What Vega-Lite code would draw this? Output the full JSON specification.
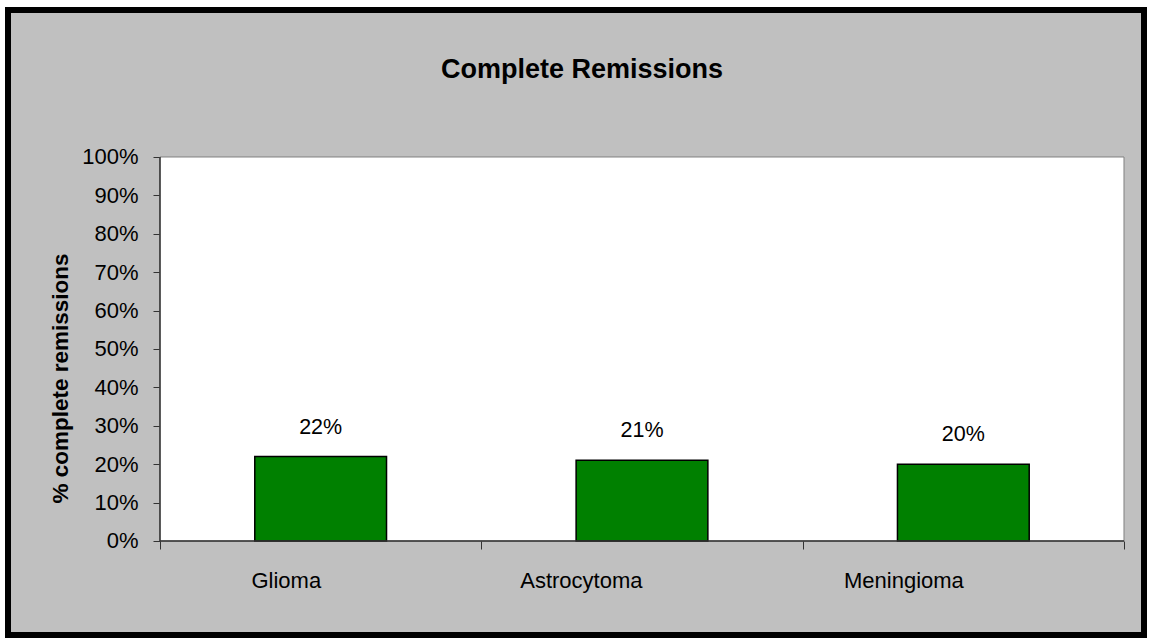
{
  "$schema": "https://vega.github.io/schema/vega-lite/v6.json",
  "width": 1136,
  "height": 625,
  "autosize": "none",
  "padding": {"left": 8, "top": 10, "right": 9, "bottom": 5},
  "background": "white",
  "title": {
    "text": "Complete Remissions",
    "font": "Liberation Sans",
    "fontSize": 27,
    "fontWeight": "bold",
    "color": "black",
    "anchor": "middle",
    "frame": "group",
    "baseline": "alphabetic",
    "offset": -95,
    "dx": 6
  },
  "config": {
    "view": {"fill": "#C0C0C0", "stroke": "black", "strokeWidth": 6},
    "font": "Liberation Sans"
  },
  "data": {
    "values": [
      {"tumor": "Glioma", "rate": 0.22},
      {"tumor": "Astrocytoma", "rate": 0.21},
      {"tumor": "Meningioma", "rate": 0.20}
    ]
  },
  "layer": [
    {
      "data": {"values": [{"part": "plot area"}]},
      "mark": {"type": "rect", "fill": "white", "stroke": "#808080", "strokeWidth": 1},
      "encoding": {
        "x": {"datum": "Glioma", "type": "nominal", "bandPosition": 0},
        "x2": {"datum": "Meningioma", "bandPosition": 1},
        "y": {"datum": 0, "type": "quantitative"},
        "y2": {"datum": 1}
      }
    },
    {
      "mark": {"type": "bar", "fill": "#008000", "stroke": "black", "strokeWidth": 1.5, "width": {"band": 0.41}},
      "encoding": {
        "x": {
          "field": "tumor",
          "type": "nominal",
          "scale": {
            "domain": ["Glioma", "Astrocytoma", "Meningioma"],
            "paddingInner": 0,
            "paddingOuter": 0.2676,
            "align": 0.8837
          },
          "axis": {
            "title": null,
            "offset": -94,
            "domain": false,
            "grid": false,
            "tickBand": "extent",
            "tickSize": 8,
            "tickColor": "#333333",
            "tickWidth": 1,
            "labelFont": "Liberation Sans",
            "labelFontSize": 22,
            "labelColor": "black",
            "labelPadding": 21,
            "labelAngle": 0,
            "labelBaseline": "top"
          }
        },
        "y": {
          "field": "rate",
          "type": "quantitative",
          "scale": {"domain": [-0.2448, 1.3828], "nice": false, "zero": false},
          "axis": {
            "values": [0, 0.1, 0.2, 0.3, 0.4, 0.5, 0.6, 0.7, 0.8, 0.9, 1],
            "format": ".0%",
            "offset": -152,
            "domain": false,
            "grid": false,
            "tickSize": 7,
            "tickColor": "#333333",
            "tickWidth": 1,
            "labelFont": "Liberation Sans",
            "labelFontSize": 22,
            "labelColor": "black",
            "labelPadding": 15,
            "title": "% complete remissions",
            "titleFont": "Liberation Sans",
            "titleFontSize": 22.5,
            "titleFontWeight": "bold",
            "titleColor": "black",
            "titleAngle": -90,
            "titleX": -100,
            "titleY": 368,
            "titleAlign": "center",
            "titleBaseline": "middle"
          }
        },
        "y2": {"datum": 0}
      }
    },
    {
      "mark": {"type": "text", "dy": -23, "baseline": "alphabetic", "fontSize": 21.5, "color": "black", "font": "Liberation Sans"},
      "encoding": {
        "x": {"field": "tumor", "type": "nominal"},
        "y": {"field": "rate", "type": "quantitative"},
        "text": {"field": "rate", "type": "quantitative", "format": ".0%"}
      }
    },
    {
      "data": {"values": [{"part": "value axis line"}]},
      "mark": {"type": "rule", "color": "#333333", "strokeWidth": 1.5},
      "encoding": {
        "x": {"datum": "Glioma", "type": "nominal", "bandPosition": 0},
        "y": {"datum": 0, "type": "quantitative"},
        "y2": {"datum": 1}
      }
    },
    {
      "data": {"values": [{"part": "category axis line"}]},
      "mark": {"type": "rule", "color": "#333333", "strokeWidth": 1.5},
      "encoding": {
        "x": {"datum": "Glioma", "type": "nominal", "bandPosition": 0},
        "x2": {"datum": "Meningioma", "bandPosition": 1},
        "y": {"datum": 0, "type": "quantitative"}
      }
    }
  ]
}
